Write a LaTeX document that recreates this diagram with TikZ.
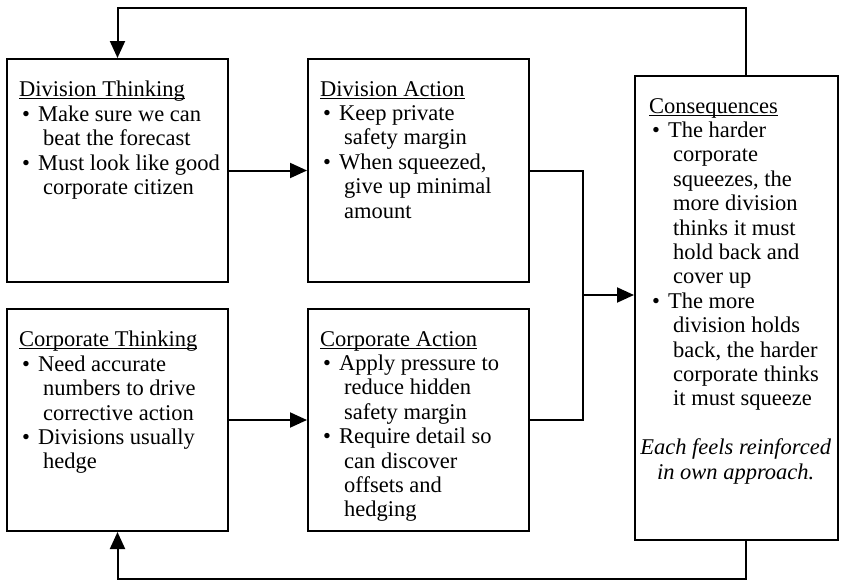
\documentclass[tikz,border=0pt]{standalone}
\usepackage{fontspec}
\setmainfont{Liberation Serif}
\usetikzlibrary{arrows.meta,calc}
\tikzset{
  box/.style={draw=black, line width=2pt, rectangle, inner sep=0pt, fill=white},
  txt/.style={anchor=north west, align=left, inner sep=0pt, font=\fontsize{22.5}{24.4}\selectfont},
  conn/.style={draw=black, line width=2pt},
  arr/.style={conn, -{Triangle[length=17pt,width=15pt]}}
}
\newcommand{\bul}{\hspace*{3pt}\textbullet\hspace{8pt}}
\newcommand{\cont}{\hspace*{24pt}}
\newcommand{\ulx}[1]{\setbox0\hbox{#1}\rlap{\rule[-2.6pt]{\wd0}{1pt}}\box0}
\begin{document}
\begin{tikzpicture}[x=1pt,y=-1pt]
\useasboundingbox[fill=white] (0,0) rectangle (846,584);
% boxes
\node[box, minimum width=221pt, minimum height=223pt] (dt) at (117.5,170.5) {};
\node[box, minimum width=221pt, minimum height=223pt] (da) at (418.5,170.5) {};
\node[box, minimum width=221pt, minimum height=222pt] (ct) at (117.5,420) {};
\node[box, minimum width=221pt, minimum height=222pt] (ca) at (418.5,420) {};
\node[box, minimum width=203pt, minimum height=464pt] (co) at (736.5,308) {};
% texts
\node[txt] (dtt) at ($(dt.north west)+(13,23)$) {\ulx{Division Thinking}\\
\bul Make sure we can\\
\cont beat the forecast\\
\bul Must look like good\\
\cont corporate citizen};
\node[txt] (dat) at ($(da.north west)+(13,23)$) {\ulx{Division Action}\\
\bul Keep private\\
\cont safety margin\\
\bul When squeezed,\\
\cont give up minimal\\
\cont amount};
\node[txt] (ctt) at ($(ct.north west)+(13,23)$) {\ulx{Corporate Thinking}\\
\bul Need accurate\\
\cont numbers to drive\\
\cont corrective action\\
\bul Divisions usually\\
\cont hedge};
\node[txt] (cat) at ($(ca.north west)+(13,23)$) {\ulx{Corporate Action}\\
\bul Apply pressure to\\
\cont reduce hidden\\
\cont safety margin\\
\bul Require detail so\\
\cont can discover\\
\cont offsets and\\
\cont hedging};
\node[txt] (cot) at ($(co.north west)+(15,23)$) {\ulx{Consequences}\\
\bul The harder\\
\cont corporate\\
\cont squeezes, the\\
\cont more division\\
\cont thinks it must\\
\cont hold back and\\
\cont cover up\\
\bul The more\\
\cont division holds\\
\cont back, the harder\\
\cont corporate thinks\\
\cont it must squeeze\\[24.4pt]
\makebox[173pt][c]{\itshape Each feels reinforced}\\
\makebox[173pt][c]{\itshape in own approach.}};
% connector points
\coordinate (j) at (583,295);
\coordinate (tl) at (746,8);
\coordinate (bl) at (746,579);
% connectors
\draw[arr] (dt) -- (da);
\draw[arr] (ct) -- (ca);
\draw[conn] (da.east) -| (j);
\draw[conn] (ca.east) -| (j);
\draw[arr] (j) -- (j -| co.west);
\draw[arr] (co.north -| tl) -- (tl) -| (dt.north);
\draw[arr] (co.south -| bl) -- (bl) -| (ct.south);
\end{tikzpicture}
\end{document}
